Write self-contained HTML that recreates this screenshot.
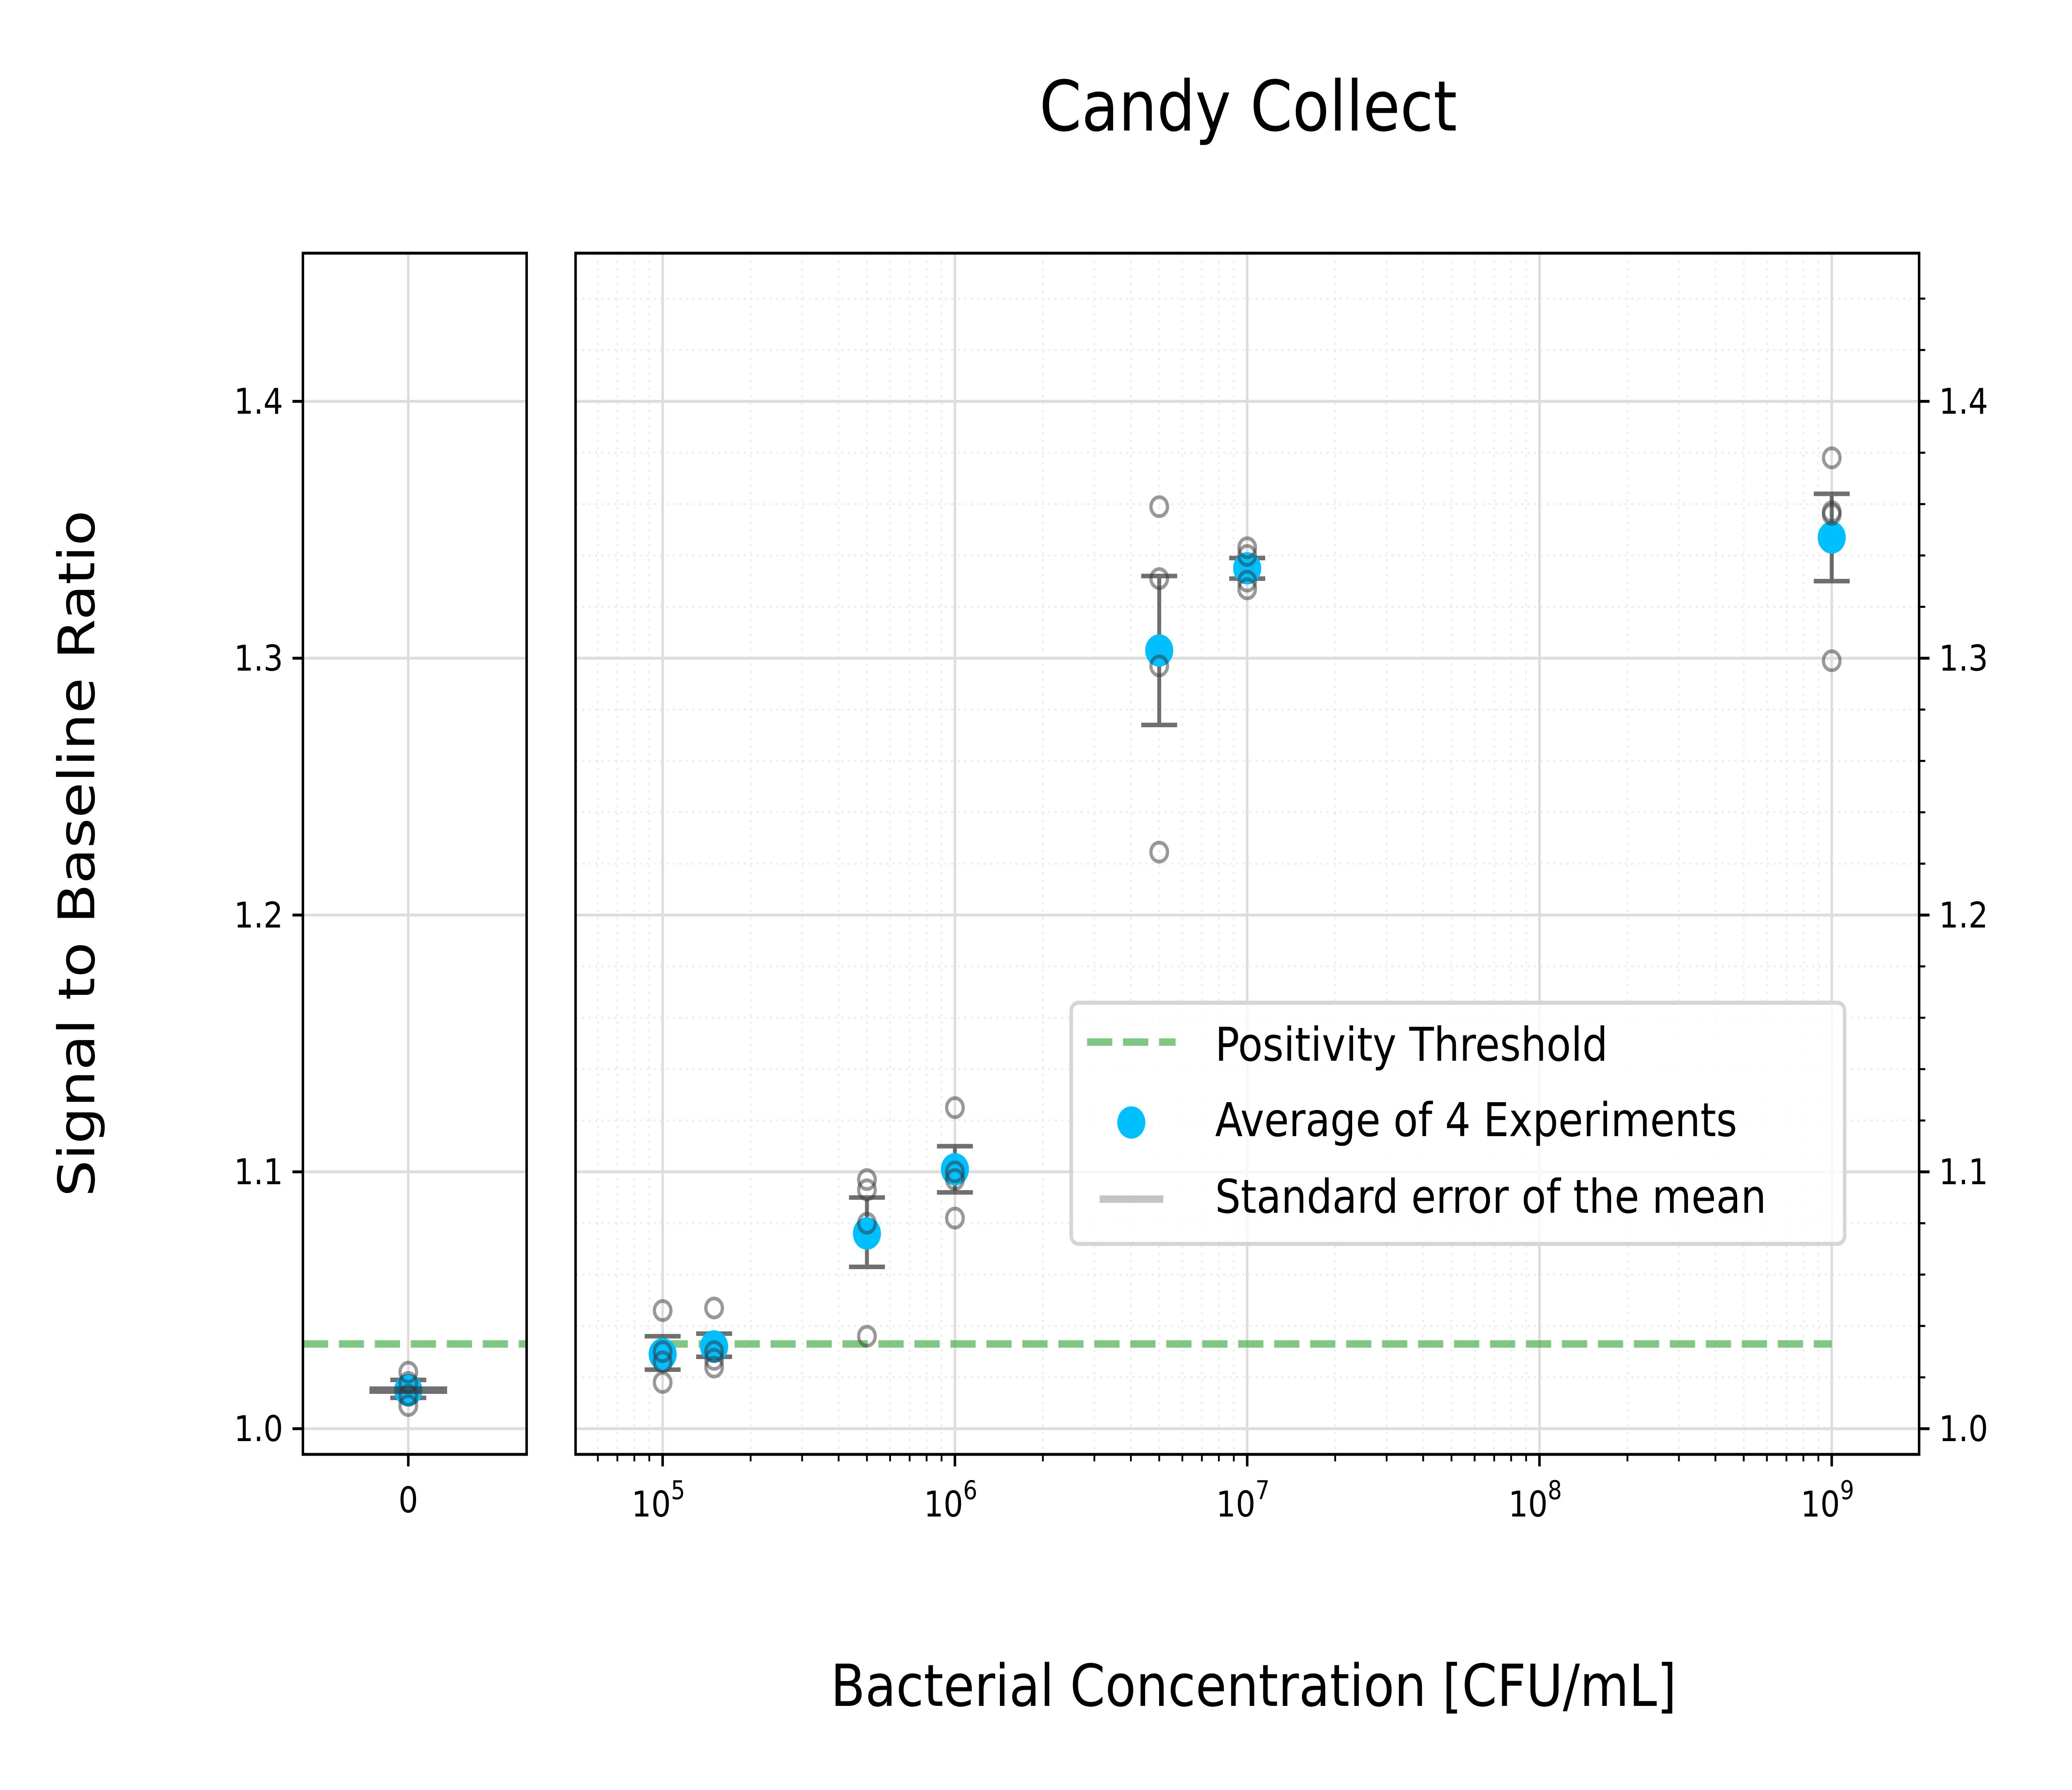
<!DOCTYPE html>
<html><head><meta charset="utf-8"><style>
html,body{margin:0;padding:0;background:#fff;width:100%;height:100%;overflow:hidden}
svg{display:block;width:100vw;height:100vh;max-width:5760px;max-height:4320px}
text{font-family:"DejaVu Sans","Liberation Sans",sans-serif;fill:#000}
</style></head><body>
<svg id="chart" viewBox="0 0 5760 4320" preserveAspectRatio="none" xmlns="http://www.w3.org/2000/svg">
<g id="grid"></g>
<g id="marks"></g>
<g id="axes"></g>
<text x="3470" y="315" font-size="168" text-anchor="middle">Candy Collect</text>
<text x="3485" y="4117" font-size="140" text-anchor="middle">Bacterial Concentration [CFU/mL]</text>
<text x="0" y="0" font-size="140" text-anchor="middle" transform="translate(262,2060) rotate(-90)">Signal to Baseline Ratio</text>
<g id="legend">
<rect x="2978" y="2420" width="2150" height="582" rx="20" fill="#fff" fill-opacity="0.8" stroke="#d6d6d6" stroke-width="10"/>
<line x1="3022" y1="2515" x2="3268" y2="2515" stroke="#81c784" stroke-width="18" stroke-dasharray="70,30"/>
<text x="3378" y="2560" font-size="112">Positivity Threshold</text>
<circle cx="3145" cy="2709" r="39" fill="#00bfff"/>
<text x="3378" y="2742" font-size="112">Average of 4 Experiments</text>
<line x1="3057" y1="2894" x2="3234" y2="2894" stroke="#c4c4c4" stroke-width="18"/>
<text x="3378" y="2927" font-size="112">Standard error of the mean</text>
</g>
</svg>
<script>
const concentrations = [1e5, 1.5e5, 5e5, 1e6, 5e6, 1e7, 1e9];
const replicates = [
  [1.046, 1.030, 1.026, 1.018],
  [1.047, 1.030, 1.027, 1.024],
  [1.097, 1.093, 1.080, 1.036],
  [1.125, 1.100, 1.097, 1.082],
  [1.359, 1.331, 1.297, 1.2245],
  [1.343, 1.340, 1.330, 1.327],
  [1.378, 1.357, 1.356, 1.299]
];
const means = [1.029, 1.032, 1.076, 1.101, 1.303, 1.335, 1.347];
const semLow = [1.023, 1.028, 1.063, 1.092, 1.274, 1.331, 1.330];
const semHigh = [1.036, 1.037, 1.090, 1.110, 1.332, 1.339, 1.364];
const zeroReplicates = [1.022, 1.018, 1.013, 1.009];
const zeroMean = 1.015;
const zeroSemLow = 1.012;
const zeroSemHigh = 1.019;
const threshold = 1.033;
const yTicks = [1.0, 1.1, 1.2, 1.3, 1.4];
const yTickLabels = ["1.0", "1.1", "1.2", "1.3", "1.4"];
const xExps = [5, 6, 7, 8, 9];

const NS = "http://www.w3.org/2000/svg";
const L = {x0: 842, x1: 1464}, R = {x0: 1600, x1: 5335}, TOP = 611, BOT = 3510;
const yMin = 0.99, yMax = 1.4577;
const lgMin = 4.702, lgMax = 9.299;
function yS(v){ return BOT - (v - yMin) / (yMax - yMin) * (BOT - TOP); }
function xS(x){ return R.x0 + (Math.log10(x) - lgMin) / (lgMax - lgMin) * (R.x1 - R.x0); }
function xZ(x){ return 1135 + x * 600; }
function mk(tag, attrs, parent){ const e = document.createElementNS(NS, tag); for (const k in attrs) e.setAttribute(k, attrs[k]); parent.appendChild(e); return e; }
const grid = document.getElementById('grid'), marks = document.getElementById('marks'), axes = document.getElementById('axes');

for (let v = 1.0; v < 1.46; v += 0.02) {
  const yy = yS(v);
  if (Math.abs(Math.round(v*10) - v*10) < 1e-6) continue;
  const g = mk('line', {x1: R.x0, x2: R.x1, y1: yy, y2: yy, stroke: '#eeeeee', 'stroke-width': 5, 'stroke-dasharray': '6,12'}, grid);
  
  
  const t = mk('line', {x1: R.x1, x2: R.x1 + 17, y1: yy, y2: yy, stroke: '#000', 'stroke-width': 5}, axes);
  
  
}
for (let e = 4; e <= 9; e++) {
  for (let m = 2; m <= 9; m++) {
    const x = m * Math.pow(10, e);
    const lg = Math.log10(x);
    if (lg < lgMin || lg > lgMax) continue;
    const xx = xS(x);
    const g = mk('line', {x1: xx, x2: xx, y1: TOP, y2: BOT, stroke: '#eeeeee', 'stroke-width': 5, 'stroke-dasharray': '6,12'}, grid);
    
    
    const t = mk('line', {x1: xx, x2: xx, y1: BOT, y2: BOT + 17, stroke: '#000', 'stroke-width': 5}, axes);
    
    
  }
}
yTicks.forEach((v, i) => {
  const yy = yS(v);
  [L, R].forEach(p => {
    const g = mk('line', {x1: p.x0, x2: p.x1, y1: yy, y2: yy, stroke: '#dddddd', 'stroke-width': 7}, grid);
    
    
  });
  const t1 = mk('line', {x1: L.x0 - 29, x2: L.x0, y1: yy, y2: yy, stroke: '#000', 'stroke-width': 7}, axes);
  
  
  const t2 = mk('line', {x1: R.x1, x2: R.x1 + 29, y1: yy, y2: yy, stroke: '#000', 'stroke-width': 7}, axes);
  
  
  const l1 = mk('text', {x: L.x0 - 55, y: yy + 30, 'font-size': 86, 'text-anchor': 'end'}, axes);
  l1.textContent = yTickLabels[i];
  
  
  const l2 = mk('text', {x: R.x1 + 55, y: yy + 30, 'font-size': 86, 'text-anchor': 'start'}, axes);
  l2.textContent = yTickLabels[i];
  
  
});
xExps.forEach(e => {
  const xx = xS(Math.pow(10, e));
  const g = mk('line', {x1: xx, x2: xx, y1: TOP, y2: BOT, stroke: '#dddddd', 'stroke-width': 7}, grid);
  
  
  const t = mk('line', {x1: xx, x2: xx, y1: BOT, y2: BOT + 29, stroke: '#000', 'stroke-width': 7}, axes);
  
  
  const lab = mk('text', {x: xx - 12, y: BOT + 150, 'font-size': 86, 'text-anchor': 'middle'}, axes);
  lab.textContent = '10';
  
  
  const sup = mk('tspan', {dy: -42, 'font-size': 62}, lab);
  sup.textContent = String(e);
});
{
  const xx = xZ(0);
  const g = mk('line', {x1: xx, x2: xx, y1: TOP, y2: BOT, stroke: '#dddddd', 'stroke-width': 7}, grid);
  
  
  const t = mk('line', {x1: xx, x2: xx, y1: BOT, y2: BOT + 29, stroke: '#000', 'stroke-width': 7}, axes);
  
  
  const lab = mk('text', {x: xx, y: BOT + 140, 'font-size': 86, 'text-anchor': 'middle'}, axes);
  lab.textContent = '0';
  
  
}
{
  const yy = yS(threshold);
  const a = mk('line', {x1: L.x0, x2: L.x1, y1: yy, y2: yy, stroke: '#4caf50', 'stroke-opacity': 0.7, 'stroke-width': 18, 'stroke-dasharray': '70,30'}, marks);
  
  
  const b = mk('line', {x1: xS(concentrations[0]), x2: xS(concentrations[concentrations.length-1]), y1: yy, y2: yy, stroke: '#4caf50', 'stroke-opacity': 0.7, 'stroke-width': 18, 'stroke-dasharray': '70,30'}, marks);
  
  
}
function drawGroup(xx, reps, mean, lo, hi, name) {
  const grp = mk('g', {}, marks);
  
  
  const eb = mk('path', {d: `M${xx},${yS(lo)}V${yS(hi)}M${xx-50},${yS(lo)}H${xx+50}M${xx-50},${yS(hi)}H${xx+50}`, stroke: '#333', 'stroke-opacity': 0.7, 'stroke-width': 11, fill: 'none'}, grp);
  
  
  const mp = mk('circle', {cx: xx, cy: yS(mean), r: 39, fill: '#00bfff'}, grp);
  
  
  reps.forEach(v => {
    const c = mk('circle', {cx: xx, cy: yS(v), r: 23, fill: 'none', stroke: '#333', 'stroke-opacity': 0.5, 'stroke-width': 9}, grp);
    
    
  });
}
concentrations.forEach((c, i) => drawGroup(xS(c), replicates[i], means[i], semLow[i], semHigh[i], 'group-' + c.toExponential(1)));
drawGroup(xZ(0), zeroReplicates, zeroMean, zeroSemLow, zeroSemHigh, 'group-zero');
{
  const yy = yS(zeroMean);
  const w = mk('line', {x1: xZ(0) - 108, x2: xZ(0) + 108, y1: yy, y2: yy, stroke: '#333', 'stroke-opacity': 0.7, 'stroke-width': 18}, marks);
  
  
}
[L, R].forEach((p, i) => {
  const r = mk('rect', {x: p.x0, y: TOP, width: p.x1 - p.x0, height: BOT - TOP, fill: 'none', stroke: '#000', 'stroke-width': 7}, axes);
  
  
});
</script>
</body></html>
